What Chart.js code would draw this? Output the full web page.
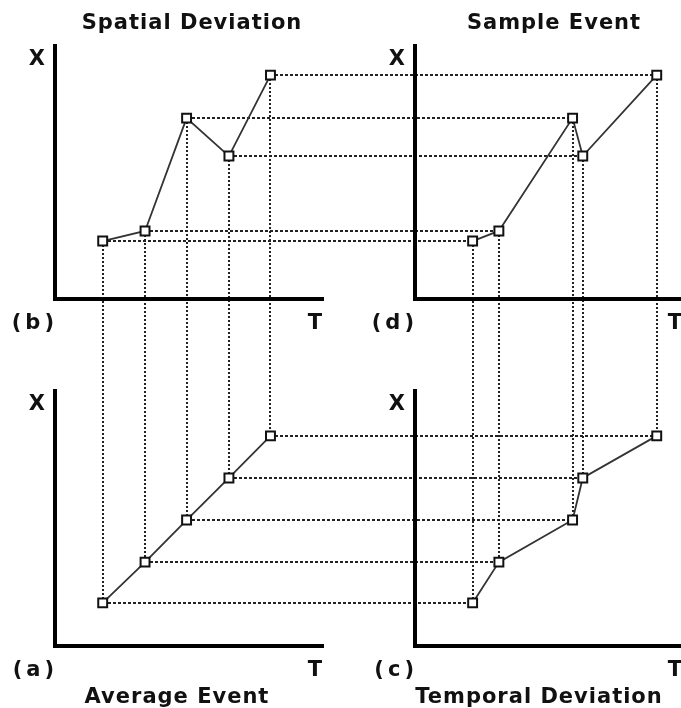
<!DOCTYPE html>
<html>
<head>
<meta charset="utf-8">
<script src="https://cdn.jsdelivr.net/npm/chart.js@4/dist/chart.umd.min.js"></script>
<style>
  html, body { margin: 0; padding: 0; background: #fff; }
  body { width: 681px; height: 708px; overflow: hidden; position: relative; }
  canvas { position: absolute; left: 0; top: 0; }
</style>
</head>
<body>
<canvas id="guides" width="700" height="708"></canvas>
<canvas id="panelB" width="700" height="708"></canvas>
<canvas id="panelD" width="700" height="708"></canvas>
<canvas id="panelA" width="700" height="708"></canvas>
<canvas id="panelC" width="700" height="708"></canvas>
<script>
// valores (T e X em unidades de 0 a 10)
const avgT = [1.78, 3.36, 4.91, 6.49, 8.04];
const avgX = [1.69, 3.29, 4.94, 6.59, 8.24];
const sampleT = [2.15, 3.13, 5.88, 6.26, 9.02];
const sampleX = [2.29, 2.69, 7.15, 5.65, 8.85];

const W = 700, H = 708;
const FONT = 'bold 21px "DejaVu Sans"';

function toPoints(ts, xs) {
    return ts.map((t, i) => ({ x: t, y: xs[i] }));
}

// texto de cada painel: título, "X", "T" e a etiqueta (a)...(d)
const panelText = {
    id: 'panelText',
    afterDraw(chart, args, opts) {
        const { ctx, chartArea: a } = chart;
        ctx.save();
        ctx.fillStyle = '#111';
        ctx.font = FONT;
        ctx.textBaseline = 'alphabetic';
        ctx.letterSpacing = '1px';
        ctx.textAlign = 'center';
        ctx.fillText(opts.title, opts.titleX, opts.titleY);
        ctx.textAlign = 'right';
        ctx.fillText('X', a.left - 9, a.top + 19);
        ctx.fillText('T', a.right, a.bottom + 30);
        ctx.letterSpacing = '4px';
        ctx.fillText(opts.tag, a.left + 3, a.bottom + 30);
        ctx.restore();
    }
};

function makePanel(id, ts, xs, area, text) {
    const ctx = document.getElementById(id).getContext('2d');
    const axis = {
        type: 'linear',
        min: 0,
        max: 10,
        ticks: { display: false },
        grid: { display: false, drawTicks: false },
        border: { display: true, width: 4, color: '#000' }
    };
    return new Chart(ctx, {
        type: 'line',
        data: {
            datasets: [{
                data: toPoints(ts, xs),
                borderColor: '#333',
                borderWidth: 1.8,
                pointStyle: 'rect',
                pointRadius: 6.3,
                pointBorderWidth: 2,
                pointBorderColor: '#111',
                pointBackgroundColor: '#fff',
                tension: 0
            }]
        },
        options: {
            responsive: false,
            animation: false,
            events: [],
            layout: {
                autoPadding: false,
                padding: { left: area.left, top: area.top, right: W - area.right, bottom: H - area.bottom }
            },
            scales: { x: axis, y: { ...axis } },
            plugins: {
                legend: { display: false },
                tooltip: { enabled: false },
                panelText: text
            }
        },
        plugins: [panelText]
    });
}

const chartB = makePanel('panelB', avgT, sampleX,
    { left: 55, top: 46, right: 323, bottom: 299 },
    { title: 'Spatial Deviation', titleX: 192, titleY: 29, tag: '(b)' });
const chartD = makePanel('panelD', sampleT, sampleX,
    { left: 415, top: 46, right: 683, bottom: 299 },
    { title: 'Sample Event', titleX: 554, titleY: 29, tag: '(d)' });
const chartA = makePanel('panelA', avgT, avgX,
    { left: 55, top: 391, right: 323, bottom: 646 },
    { title: 'Average Event', titleX: 177, titleY: 703, tag: '(a)' });
const chartC = makePanel('panelC', sampleT, avgX,
    { left: 415, top: 391, right: 683, bottom: 646 },
    { title: 'Temporal Deviation', titleX: 539, titleY: 703, tag: '(c)' });

// linhas tracejadas que ligam os pontos entre os painéis
function drawGuides() {
    const g = document.getElementById('guides').getContext('2d');
    g.strokeStyle = '#222';
    g.lineWidth = 2;
    const px = (chart, v) => Math.round(chart.scales.x.getPixelForValue(v));
    const py = (chart, v) => Math.round(chart.scales.y.getPixelForValue(v));
    const seg = (x1, y1, x2, y2, dash) => {
        g.setLineDash(dash);
        g.beginPath();
        g.moveTo(x1, y1);
        g.lineTo(x2, y2);
        g.stroke();
    };
    for (let i = 0; i < avgT.length; i++) {
        // verticais: (b) -> (a) e (d) -> (c)
        seg(px(chartB, avgT[i]), py(chartB, sampleX[i]), px(chartA, avgT[i]), py(chartA, avgX[i]), [2, 2]);
        seg(px(chartD, sampleT[i]), py(chartD, sampleX[i]), px(chartC, sampleT[i]), py(chartC, avgX[i]), [2, 2]);
        // horizontais: (b) -> (d) e (a) -> (c)
        seg(px(chartB, avgT[i]), py(chartB, sampleX[i]), px(chartD, sampleT[i]), py(chartD, sampleX[i]), [3, 2]);
        seg(px(chartA, avgT[i]), py(chartA, avgX[i]), px(chartC, sampleT[i]), py(chartC, avgX[i]), [3, 2]);
    }
}

drawGuides();
</script>
</body>
</html>
